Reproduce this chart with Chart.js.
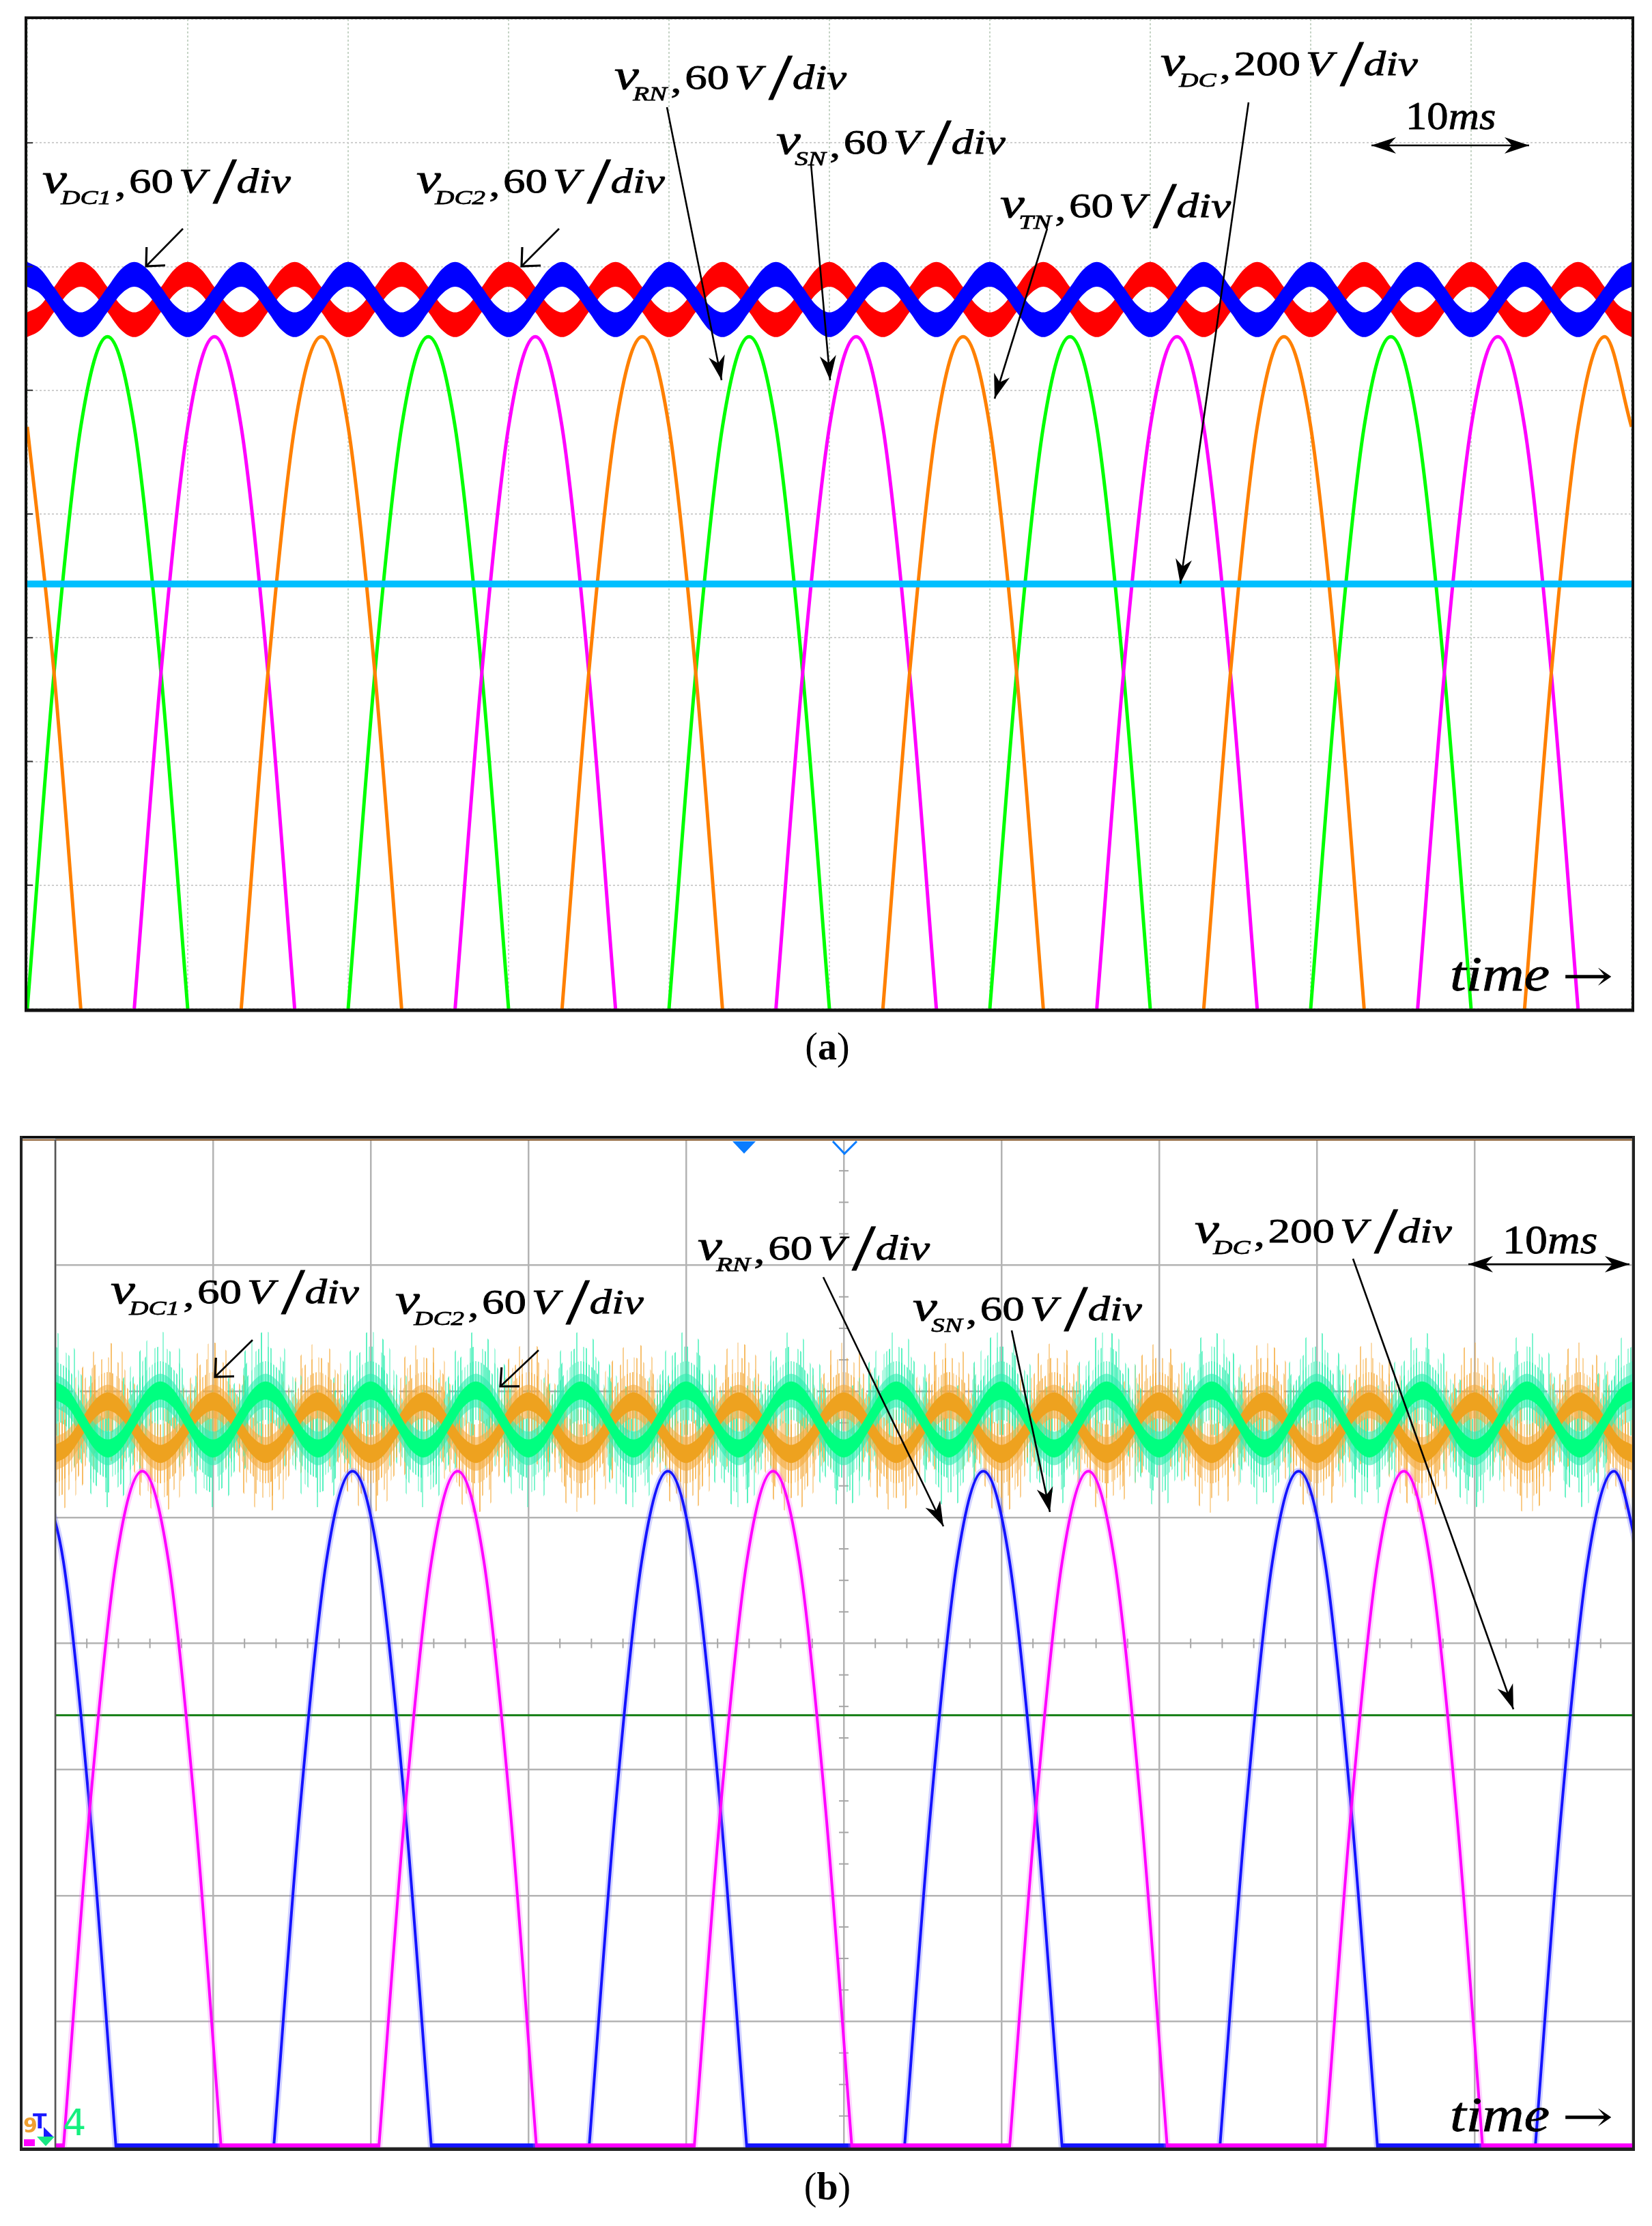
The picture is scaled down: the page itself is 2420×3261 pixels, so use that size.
<!DOCTYPE html>
<html>
<head>
<meta charset="utf-8">
<script src="https://cdn.jsdelivr.net/npm/chart.js@4.4.1/dist/chart.umd.min.js"></script>
<style>
html,body{margin:0;padding:0;background:#fff;}
body{width:2420px;height:3261px;position:relative;overflow:hidden;}
canvas{position:absolute;left:0;}
#ca{top:0;}
#cb{top:1600px;}
</style>
</head>
<body>
<canvas id="ca" width="2420" height="1600"></canvas>
<canvas id="cb" width="2420" height="1661"></canvas>
<script>
// ---------------- axis definitions ----------------
const timeRangeMs = [0, 100];          // 10 ms/div x 10 div
const timeStepMs = 10;
const divRange = [0, 8];               // 8 vertical divisions
// channel sensitivities (V/div)
const vPerDiv = { phase: 60, half: 60, dc: 200 };

// sampling instants (ms) of the read-off values
function sampleTimes(t0, dt, n) { return Array.from({length: n}, (_, k) => t0 + k * dt); }
const tA_phase = sampleTimes(0, 5/3, 61);
const tA_ripple = sampleTimes(0, 5/6, 121);
const tB_phase = sampleTimes(-1.15, 5/3, 62);
const tB_ripple = sampleTimes(0, 5/6, 121);
const tEnds = [0, 100];

// ---------------- panel (a) values (V) ----------------
const vRN_a = [0,163,282.3,326,282.3,163,0,null,null,null,null,null,
               0,163,282.3,326,282.3,163,0,null,null,null,null,null,
               0,163,282.3,326,282.3,163,0,null,null,null,null,null,
               0,163,282.3,326,282.3,163,0,null,null,null,null,null,
               0,163,282.3,326,282.3,163,0,null,null,null,null,null,
               0];
const vSN_a = [null,null,null,null,0,163,282.3,326,282.3,163,0,null,
               null,null,null,null,0,163,282.3,326,282.3,163,0,null,
               null,null,null,null,0,163,282.3,326,282.3,163,0,null,
               null,null,null,null,0,163,282.3,326,282.3,163,0,null,
               null,null,null,null,0,163,282.3,326,282.3,163,0,null,
               null];
const vTN_a = [282.3,163,0,null,null,null,null,null,0,163,282.3,326,
               282.3,163,0,null,null,null,null,null,0,163,282.3,326,
               282.3,163,0,null,null,null,null,null,0,163,282.3,326,
               282.3,163,0,null,null,null,null,null,0,163,282.3,326,
               282.3,163,0,null,null,null,null,null,0,163,282.3,326,
               282.3];
const vDC1_a = [356.2,352.6,344,335.4,331.8,335.4,344,352.6, 356.2,352.6,344,335.4,331.8,335.4,344,352.6,
                356.2,352.6,344,335.4,331.8,335.4,344,352.6, 356.2,352.6,344,335.4,331.8,335.4,344,352.6,
                356.2,352.6,344,335.4,331.8,335.4,344,352.6, 356.2,352.6,344,335.4,331.8,335.4,344,352.6,
                356.2,352.6,344,335.4,331.8,335.4,344,352.6, 356.2,352.6,344,335.4,331.8,335.4,344,352.6,
                356.2,352.6,344,335.4,331.8,335.4,344,352.6, 356.2,352.6,344,335.4,331.8,335.4,344,352.6,
                356.2,352.6,344,335.4,331.8,335.4,344,352.6, 356.2,352.6,344,335.4,331.8,335.4,344,352.6,
                356.2,352.6,344,335.4,331.8,335.4,344,352.6, 356.2,352.6,344,335.4,331.8,335.4,344,352.6,
                356.2,352.6,344,335.4,331.8,335.4,344,352.6,
                356.2];
const vDC2_a = [331.8,335.4,344,352.6,356.2,352.6,344,335.4, 331.8,335.4,344,352.6,356.2,352.6,344,335.4,
                331.8,335.4,344,352.6,356.2,352.6,344,335.4, 331.8,335.4,344,352.6,356.2,352.6,344,335.4,
                331.8,335.4,344,352.6,356.2,352.6,344,335.4, 331.8,335.4,344,352.6,356.2,352.6,344,335.4,
                331.8,335.4,344,352.6,356.2,352.6,344,335.4, 331.8,335.4,344,352.6,356.2,352.6,344,335.4,
                331.8,335.4,344,352.6,356.2,352.6,344,335.4, 331.8,335.4,344,352.6,356.2,352.6,344,335.4,
                331.8,335.4,344,352.6,356.2,352.6,344,335.4, 331.8,335.4,344,352.6,356.2,352.6,344,335.4,
                331.8,335.4,344,352.6,356.2,352.6,344,335.4, 331.8,335.4,344,352.6,356.2,352.6,344,335.4,
                331.8,335.4,344,352.6,356.2,352.6,344,335.4,
                331.8];
const vDC_a = [687, 687];
const rippleBand_a = 6;   // +/- V (thickness of the HF ripple band)

// ---------------- panel (b) values (V) ----------------
const vRN_b = [322,278.9,161,0,0,0,0,0,0,0,161,278.9,
               322,278.9,161,0,0,0,0,0,0,0,161,278.9,
               322,278.9,161,0,0,0,0,0,0,0,161,278.9,
               322,278.9,161,0,0,0,0,0,0,0,161,278.9,
               322,278.9,161,0,0,0,0,0,0,0,161,278.9,
               322,278.9];
const vSN_b = [0,0,161,278.9,322,278.9,161,0,0,0,0,0,
               0,0,161,278.9,322,278.9,161,0,0,0,0,0,
               0,0,161,278.9,322,278.9,161,0,0,0,0,0,
               0,0,161,278.9,322,278.9,161,0,0,0,0,0,
               0,0,161,278.9,322,278.9,161,0,0,0,0,0,
               0,0];
const vDC1_b = [330.2,333.9,342.7,351.5,355.2,351.5,342.7,333.9, 330.2,333.9,342.7,351.5,355.2,351.5,342.7,333.9,
                330.2,333.9,342.7,351.5,355.2,351.5,342.7,333.9, 330.2,333.9,342.7,351.5,355.2,351.5,342.7,333.9,
                330.2,333.9,342.7,351.5,355.2,351.5,342.7,333.9, 330.2,333.9,342.7,351.5,355.2,351.5,342.7,333.9,
                330.2,333.9,342.7,351.5,355.2,351.5,342.7,333.9, 330.2,333.9,342.7,351.5,355.2,351.5,342.7,333.9,
                330.2,333.9,342.7,351.5,355.2,351.5,342.7,333.9, 330.2,333.9,342.7,351.5,355.2,351.5,342.7,333.9,
                330.2,333.9,342.7,351.5,355.2,351.5,342.7,333.9, 330.2,333.9,342.7,351.5,355.2,351.5,342.7,333.9,
                330.2,333.9,342.7,351.5,355.2,351.5,342.7,333.9, 330.2,333.9,342.7,351.5,355.2,351.5,342.7,333.9,
                330.2,333.9,342.7,351.5,355.2,351.5,342.7,333.9,
                330.2];
const vDC2_b = [360.4,356.4,346.6,336.8,332.8,336.8,346.6,356.4, 360.4,356.4,346.6,336.8,332.8,336.8,346.6,356.4,
                360.4,356.4,346.6,336.8,332.8,336.8,346.6,356.4, 360.4,356.4,346.6,336.8,332.8,336.8,346.6,356.4,
                360.4,356.4,346.6,336.8,332.8,336.8,346.6,356.4, 360.4,356.4,346.6,336.8,332.8,336.8,346.6,356.4,
                360.4,356.4,346.6,336.8,332.8,336.8,346.6,356.4, 360.4,356.4,346.6,336.8,332.8,336.8,346.6,356.4,
                360.4,356.4,346.6,336.8,332.8,336.8,346.6,356.4, 360.4,356.4,346.6,336.8,332.8,336.8,346.6,356.4,
                360.4,356.4,346.6,336.8,332.8,336.8,346.6,356.4, 360.4,356.4,346.6,336.8,332.8,336.8,346.6,356.4,
                360.4,356.4,346.6,336.8,332.8,336.8,346.6,356.4, 360.4,356.4,346.6,336.8,332.8,336.8,346.6,356.4,
                360.4,356.4,346.6,336.8,332.8,336.8,346.6,356.4,
                360.4];
const vDC_b = [686, 686];
const coreBand_b = 4.3;                 // +/- V dense core of the ripple traces
const noiseLevels_b = [28, 21, 14];     // +/- V extents of the switching-noise spikes
const noiseInner_b = 8;                 // +/- V dense noise haze

// ---------------- label texts ----------------
const labelsA = [
  {sub: 'DC1', num: '60'}, {sub: 'DC2', num: '60'}, {sub: 'RN', num: '60'},
  {sub: 'SN', num: '60'}, {sub: 'TN', num: '60'}, {sub: 'DC', num: '200'}
];
const labelsB = [
  {sub: 'DC1', num: '60'}, {sub: 'DC2', num: '60'}, {sub: 'RN', num: '60'},
  {sub: 'SN', num: '60'}, {sub: 'DC', num: '200'}
];
const timeSpanText = ['10', 'ms'];
const timeAxisText = 'time';
const arrowGlyph = '\u2192';
const captions = ['a', 'b'];

// ---------------- helpers ----------------
const SERIF = '"Liberation Serif", "Times New Roman", serif';

function lineDS(t, v, perDiv, color, width, extra) {
  return Object.assign({
    data: t.map((x, i) => ({x, y: v[i] == null ? null : v[i] / perDiv})),
    borderColor: color, borderWidth: width, pointRadius: 0, fill: false,
    cubicInterpolationMode: 'monotone', clip: 0, spanGaps: false
  }, extra || {});
}
function bandDS(t, v, hw, perDiv, color) {
  const common = {borderColor: 'rgba(0,0,0,0)', borderWidth: 0, pointRadius: 0,
                  cubicInterpolationMode: 'monotone', clip: 0};
  const up = Object.assign({data: t.map((x, i) => ({x, y: (v[i] + hw) / perDiv})), fill: false}, common);
  const lo = Object.assign({data: t.map((x, i) => ({x, y: (v[i] - hw) / perDiv})), fill: '-1',
                            backgroundColor: color}, common);
  return [up, lo];
}
function humps(v) { return v.map((y, i) => (y > 0 || v[i - 1] > 0 || v[i + 1] > 0) ? y : null); }
function flats(v) { return v.map(y => y === 0 ? 0 : null); }
function ordered(list) { const n = list.length; list.forEach((d, i) => d.order = n - i); return list; }

// vertical-streak texture used to render the switching noise of the scope traces
function streaks(rgb, density, alpha, seed, n) {
  const w = 2;
  const c = document.createElement('canvas');
  c.width = n * w; c.height = 4;
  const g = c.getContext('2d');
  for (let i = 0; i < n; i++) {
    const h = ((i * 37 + seed) % n) / n;
    if (h < density) {
      g.fillStyle = 'rgba(' + rgb + ',' + (alpha * (0.45 + 0.55 * (1 - h / density))).toFixed(3) + ')';
      g.fillRect(i * w, 0, w, 4);
    }
  }
  return g.createPattern(c, 'repeat');
}

function txt(ctx, s, x, y) { ctx.fillText(s, x, y); ctx.strokeText(s, x, y); }

function mathLabel(ctx, x, y, lab) {
  ctx.save();
  ctx.translate(x, y);
  ctx.scale(1.3, 1);
  ctx.fillStyle = '#000';
  ctx.strokeStyle = '#000';
  ctx.lineWidth = 0.8;
  ctx.textAlign = 'left';
  ctx.textBaseline = 'alphabetic';
  ctx.font = 'italic 62px ' + SERIF;
  txt(ctx, 'v', 0, 0);
  let cx = 21;
  ctx.font = 'italic 30px ' + SERIF;
  txt(ctx, lab.sub, cx, 17);
  cx += ctx.measureText(lab.sub).width + 4;
  ctx.font = '50px ' + SERIF;
  txt(ctx, ',', cx, 5);
  cx += 16;
  txt(ctx, lab.num, cx, 0);
  cx += ctx.measureText(lab.num).width + 6;
  ctx.font = 'italic 50px ' + SERIF;
  txt(ctx, 'V', cx, 0);
  cx += ctx.measureText('V').width + 8;
  ctx.font = '96px ' + SERIF;
  txt(ctx, '/', cx, 15);
  cx += ctx.measureText('/').width;
  ctx.font = 'italic 50px ' + SERIF;
  txt(ctx, 'div', cx, 0);
  ctx.restore();
}
function spanLabel(ctx, x, y, size, sx) {
  ctx.save();
  ctx.translate(x, y);
  ctx.scale(sx, 1);
  ctx.fillStyle = '#000';
  ctx.strokeStyle = '#000';
  ctx.lineWidth = 0.8;
  ctx.textAlign = 'left';
  ctx.textBaseline = 'alphabetic';
  ctx.font = size + 'px ' + SERIF;
  txt(ctx, timeSpanText[0], 0, 0);
  const w = ctx.measureText(timeSpanText[0]).width;
  ctx.font = 'italic ' + size + 'px ' + SERIF;
  txt(ctx, timeSpanText[1], w, 0);
  ctx.restore();
}
function timeLabel(ctx, x, y) {
  ctx.save();
  ctx.translate(x, y);
  ctx.scale(1.18, 1);
  ctx.fillStyle = '#000';
  ctx.strokeStyle = '#000';
  ctx.lineWidth = 0.8;
  ctx.textAlign = 'left';
  ctx.textBaseline = 'alphabetic';
  ctx.font = 'italic 72px ' + SERIF;
  txt(ctx, timeAxisText, 0, 0);
  ctx.restore();
  ctx.save();
  ctx.translate(x + 164, y);
  ctx.scale(1.45, 1);
  ctx.fillStyle = '#000';
  ctx.font = '62px "DejaVu Serif", "DejaVu Sans", serif';
  ctx.textAlign = 'left';
  ctx.textBaseline = 'alphabetic';
  ctx.fillText(arrowGlyph, 0, 0);
  ctx.restore();
}
function caption(ctx, letter, cx, y) {
  ctx.save();
  ctx.fillStyle = '#000';
  ctx.textBaseline = 'alphabetic';
  ctx.textAlign = 'left';
  ctx.font = '56px ' + SERIF;
  const wp = ctx.measureText('(').width, wq = ctx.measureText(')').width;
  ctx.font = 'bold 56px ' + SERIF;
  const wl = ctx.measureText(letter).width;
  let x = cx - (wp + wl + wq) / 2;
  ctx.font = '56px ' + SERIF;
  ctx.fillText('(', x, y); x += wp;
  ctx.font = 'bold 56px ' + SERIF;
  ctx.fillText(letter, x, y); x += wl;
  ctx.font = '56px ' + SERIF;
  ctx.fillText(')', x, y);
  ctx.restore();
}
function arrow(ctx, x1, y1, x2, y2, type, both) {
  ctx.save();
  ctx.strokeStyle = '#000';
  ctx.fillStyle = '#000';
  ctx.lineWidth = 2.6;
  ctx.beginPath(); ctx.moveTo(x1, y1); ctx.lineTo(x2, y2); ctx.stroke();
  const head = (px, py, qx, qy) => {
    const a = Math.atan2(py - qy, px - qx);
    if (type === 'open') {
      const L = 28;
      ctx.beginPath();
      ctx.moveTo(px - L * Math.cos(a - 0.75), py - L * Math.sin(a - 0.75));
      ctx.lineTo(px, py);
      ctx.lineTo(px - L * Math.cos(a + 0.75), py - L * Math.sin(a + 0.75));
      ctx.lineWidth = 3.2;
      ctx.stroke();
    } else {
      const L = 36, W = 12;
      const ux = Math.cos(a), uy = Math.sin(a), nx = -uy, ny = ux;
      ctx.beginPath();
      ctx.moveTo(px, py);
      ctx.lineTo(px - L * ux + W * nx, py - L * uy + W * ny);
      ctx.lineTo(px - 0.7 * L * ux, py - 0.7 * L * uy);
      ctx.lineTo(px - L * ux - W * nx, py - L * uy - W * ny);
      ctx.closePath();
      ctx.fill();
    }
  };
  head(x2, y2, x1, y1);
  if (both) head(x1, y1, x2, y2);
  ctx.restore();
}

function baseOptions(padding, gridColorX, gridColorY, gridWidth, dash) {
  return {
    responsive: false, animation: false, devicePixelRatio: 1, events: [],
    layout: {padding},
    plugins: {legend: {display: false}, tooltip: {enabled: false}},
    scales: {
      x: {type: 'linear', min: timeRangeMs[0], max: timeRangeMs[1],
          ticks: {display: false, stepSize: timeStepMs},
          grid: {color: gridColorX, lineWidth: gridWidth, drawTicks: false},
          border: {display: false, dash}},
      y: {type: 'linear', min: divRange[0], max: divRange[1],
          ticks: {display: false, stepSize: 1},
          grid: {color: gridColorY, lineWidth: gridWidth, drawTicks: false},
          border: {display: false, dash}}
    }
  };
}

// ---------------- chart (a) ----------------
const dsA = ordered([
  lineDS(tA_phase, vRN_a, vPerDiv.phase, '#00ff00', 5),
  lineDS(tA_phase, vSN_a, vPerDiv.phase, '#ff00ff', 5),
  lineDS(tA_phase, vTN_a, vPerDiv.phase, '#ff8000', 5),
  ...bandDS(tA_ripple, vDC2_a, rippleBand_a, vPerDiv.half, '#ff0000'),
  ...bandDS(tA_ripple, vDC1_a, rippleBand_a, vPerDiv.half, '#0000ff'),
  lineDS(tEnds, vDC_a, vPerDiv.dc, '#00bfff', 10)
]);

const overlayA = {
  id: 'overlayA',
  afterDraw(chart) {
    const ctx = chart.ctx, a = chart.chartArea, ys = chart.scales.y;
    ctx.save();
    ctx.strokeStyle = '#333'; ctx.lineWidth = 2;
    for (let d = 1; d < 8; d++) {
      const py = ys.getPixelForValue(d);
      ctx.beginPath(); ctx.moveTo(a.left, py); ctx.lineTo(a.left + 8, py); ctx.stroke();
    }
    ctx.strokeStyle = '#111';
    ctx.lineWidth = 4;
    ctx.strokeRect(a.left - 2, a.top - 2, a.right - a.left + 4, a.bottom - a.top + 4);
    ctx.lineWidth = 5;
    ctx.beginPath(); ctx.moveTo(a.left - 4, a.bottom + 2); ctx.lineTo(a.right + 4, a.bottom + 2); ctx.stroke();
    ctx.restore();
    const pos = [[62, 282], [610, 282], [900, 130], [1137, 225], [1465, 318], [1700, 110]];
    labelsA.forEach((l, i) => mathLabel(ctx, pos[i][0], pos[i][1], l));
    arrow(ctx, 268, 335, 214, 390, 'open');
    arrow(ctx, 819, 335, 764, 390, 'open');
    arrow(ctx, 977, 157, 1057, 557, 'barb');
    arrow(ctx, 1188, 240, 1216, 557, 'barb');
    arrow(ctx, 1534, 335, 1457, 584, 'barb');
    arrow(ctx, 1829, 150, 1729, 855, 'barb');
    arrow(ctx, 2009, 213, 2240, 213, 'barb', true);
    spanLabel(ctx, 2059, 189, 58, 1.08);
    timeLabel(ctx, 2124, 1451);
    caption(ctx, captions[0], 1212, 1552);
  }
};

new Chart(document.getElementById('ca'), {
  type: 'line',
  data: {datasets: dsA},
  options: baseOptions({left: 40, top: 28, right: 30, bottom: 122}, '#c6d4c6', '#cfcfcf', 2, [3, 3]),
  plugins: [overlayA]
});

// ---------------- chart (b) ----------------
const ORANGE_RGB = '245,172,64', GREEN_RGB = '45,238,175';
const noiseDensity = [0.10, 0.22, 0.45];
const noiseDS = [];
noiseLevels_b.forEach((hw, j) => {
  noiseDS.push(...bandDS(tB_ripple, vDC1_b, hw, vPerDiv.half,
                         streaks(ORANGE_RGB, noiseDensity[j], 0.8, 11 + 17 * j, 97 - 8 * j)));
  noiseDS.push(...bandDS(tB_ripple, vDC2_b, hw, vPerDiv.half,
                         streaks(GREEN_RGB, noiseDensity[j], 0.8, 53 + 13 * j, 89 - 6 * j)));
});

const dsB = ordered([
  ...noiseDS,
  ...bandDS(tB_ripple, vDC1_b, noiseInner_b, vPerDiv.half, 'rgba(' + ORANGE_RGB + ',0.6)'),
  ...bandDS(tB_ripple, vDC2_b, noiseInner_b, vPerDiv.half, 'rgba(' + GREEN_RGB + ',0.6)'),
  ...bandDS(tB_ripple, vDC1_b, coreBand_b, vPerDiv.half, '#eea21f'),
  ...bandDS(tB_ripple, vDC2_b, coreBand_b, vPerDiv.half, '#00ff80'),
  lineDS(tEnds, vDC_b, vPerDiv.dc, '#127d12', 3, {cubicInterpolationMode: 'default', tension: 0}),
  lineDS(tB_phase, humps(vRN_b), vPerDiv.phase, 'rgba(80,80,255,0.25)', 10),
  lineDS(tB_phase, humps(vRN_b), vPerDiv.phase, '#1414ff', 4),
  lineDS(tB_phase, flats(vRN_b), vPerDiv.phase, '#1414ff', 12, {cubicInterpolationMode: 'default', tension: 0}),
  lineDS(tB_phase, humps(vSN_b), vPerDiv.phase, 'rgba(255,90,255,0.25)', 10),
  lineDS(tB_phase, humps(vSN_b), vPerDiv.phase, '#ff00ff', 4),
  lineDS(tB_phase, flats(vSN_b), vPerDiv.phase, '#ff00ff', 12, {cubicInterpolationMode: 'default', tension: 0})
]);

const overlayB = {
  id: 'overlayB',
  beforeDatasetsDraw(chart) {
    const ctx = chart.ctx, a = chart.chartArea, xs = chart.scales.x, ys = chart.scales.y;
    ctx.save();
    ctx.strokeStyle = '#a6a6a6'; ctx.lineWidth = 2.5; ctx.setLineDash([26, 10]);
    const py6 = ys.getPixelForValue(6);
    ctx.beginPath(); ctx.moveTo(a.left, py6); ctx.lineTo(a.right, py6); ctx.stroke();
    ctx.setLineDash([]);
    ctx.strokeStyle = '#a6a6a6'; ctx.lineWidth = 2;
    const cy = ys.getPixelForValue(4), cxp = xs.getPixelForValue(50);
    for (let t = 2; t < 100; t += 2) {
      if (t % 10 === 0) continue;
      const px = xs.getPixelForValue(t);
      ctx.beginPath(); ctx.moveTo(px, cy - 7); ctx.lineTo(px, cy + 7); ctx.stroke();
    }
    for (let d = 0.25; d < 8; d += 0.25) {
      if (Math.abs(d - Math.round(d)) < 1e-6) continue;
      const py = ys.getPixelForValue(d);
      ctx.beginPath(); ctx.moveTo(cxp - 7, py); ctx.lineTo(cxp + 7, py); ctx.stroke();
    }
    ctx.restore();
  },
  afterDraw(chart) {
    const ctx = chart.ctx, a = chart.chartArea;
    ctx.save();
    ctx.strokeStyle = '#111';
    ctx.lineWidth = 4;
    ctx.beginPath(); ctx.moveTo(29, a.top - 3); ctx.lineTo(a.right + 4, a.top - 3); ctx.stroke();
    ctx.strokeStyle = '#8a5a2c'; ctx.lineWidth = 2;
    ctx.beginPath(); ctx.moveTo(33, a.top + 1); ctx.lineTo(a.right, a.top + 1); ctx.stroke();
    ctx.strokeStyle = '#222'; ctx.lineWidth = 4;
    ctx.beginPath(); ctx.moveTo(31, a.top - 5); ctx.lineTo(31, a.bottom + 5); ctx.stroke();
    ctx.beginPath(); ctx.moveTo(a.right + 2, a.top - 5); ctx.lineTo(a.right + 2, a.bottom + 5); ctx.stroke();
    ctx.lineWidth = 5;
    ctx.beginPath(); ctx.moveTo(29, a.bottom + 2.5); ctx.lineTo(a.right + 4, a.bottom + 2.5); ctx.stroke();
    ctx.strokeStyle = '#555'; ctx.lineWidth = 2.5;
    ctx.beginPath(); ctx.moveTo(a.left, a.top); ctx.lineTo(a.left, a.bottom); ctx.stroke();
    // trigger markers
    ctx.fillStyle = '#0a7cff';
    ctx.beginPath(); ctx.moveTo(1073, a.top + 3); ctx.lineTo(1107, a.top + 3); ctx.lineTo(1090, a.top + 21); ctx.closePath(); ctx.fill();
    ctx.strokeStyle = '#0a7cff'; ctx.lineWidth = 3;
    ctx.beginPath(); ctx.moveTo(1220, a.top + 3); ctx.lineTo(1237, a.top + 21); ctx.lineTo(1255, a.top + 3); ctx.stroke();
    // channel markers bottom-left
    ctx.fillStyle = '#14f07e';
    ctx.font = '54px "DejaVu Sans", sans-serif';
    ctx.fillText('4', 92, a.bottom - 18);
    ctx.font = 'bold 30px "DejaVu Sans", sans-serif';
    ctx.fillStyle = '#f0a030';
    ctx.fillText('9', 34, a.bottom - 22);
    ctx.fillStyle = '#1a1aff';
    ctx.fillText('T', 48, a.bottom - 28);
    ctx.beginPath(); ctx.moveTo(64, a.bottom - 30); ctx.lineTo(78, a.bottom - 16); ctx.lineTo(64, a.bottom - 16); ctx.closePath(); ctx.fill();
    ctx.fillStyle = '#19e884';
    ctx.beginPath(); ctx.moveTo(54, a.bottom - 16); ctx.lineTo(80, a.bottom - 16); ctx.lineTo(67, a.bottom - 2); ctx.closePath(); ctx.fill();
    ctx.fillStyle = '#ff00ff';
    ctx.fillRect(35, a.bottom - 12, 16, 10);
    ctx.restore();
    const pos = [[162, 309], [579, 324], [1022, 245], [1337, 334], [1750, 220]];
    labelsB.forEach((l, i) => mathLabel(ctx, pos[i][0], pos[i][1], l));
    arrow(ctx, 370, 363, 315, 417, 'open');
    arrow(ctx, 789, 378, 733, 431, 'open');
    arrow(ctx, 1206, 271, 1382, 636, 'barb');
    arrow(ctx, 1482, 349, 1538, 615, 'barb');
    arrow(ctx, 1982, 244, 2217, 904, 'barb');
    arrow(ctx, 2151, 252, 2387, 252, 'barb', true);
    spanLabel(ctx, 2201, 236, 60, 1.1);
    timeLabel(ctx, 2124, 1522);
    caption(ctx, captions[1], 1212, 1622);
  }
};

new Chart(document.getElementById('cb'), {
  type: 'line',
  data: {datasets: dsB},
  options: baseOptions({left: 81, top: 69, right: 29, bottom: 115}, '#b3b3b3',
    (c) => (c.tick && c.tick.value === 6) ? 'rgba(0,0,0,0)' : '#b3b3b3', 2.5, []),
  plugins: [overlayB]
});
</script>
</body>
</html>
